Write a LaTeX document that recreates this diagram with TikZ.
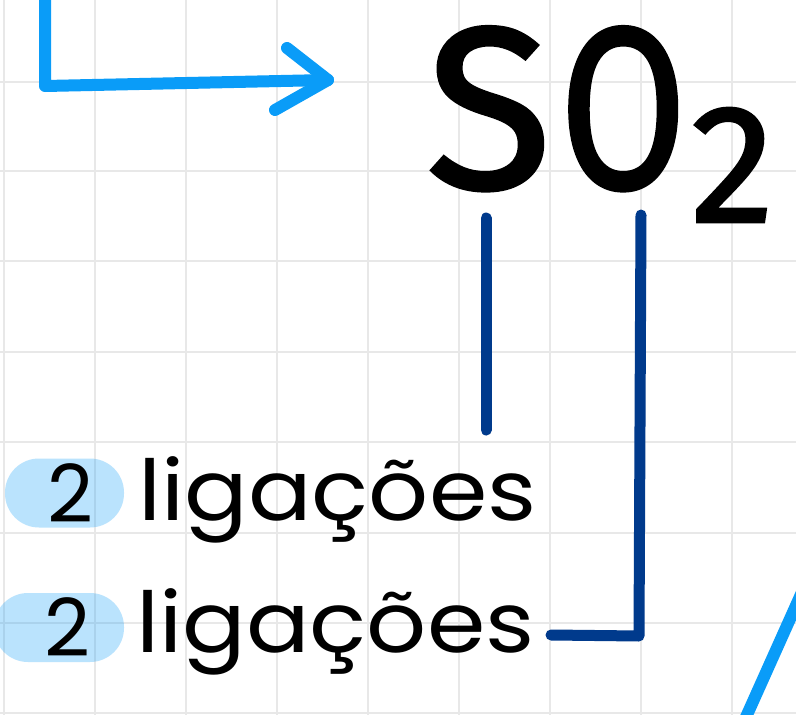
\documentclass[tikz,border=0pt]{standalone}
\usepackage{fontspec}
\setmainfont{Fira Sans}
\newfontfamily\formfont[FakeBold=1.6]{Fira Sans}
\newfontfamily\handfont{Poppins}
\usetikzlibrary{calc}
\definecolor{gridc}{HTML}{E8E8E8}
\definecolor{arrowblue}{HTML}{0A9CF8}
\definecolor{darkblue}{HTML}{003A8C}
\definecolor{pillblue}{HTML}{0A9CF8}
\tikzset{
  gridline/.style={gridc, line width=2.5pt},
  brightline/.style={arrowblue, line width=12pt, line cap=round, line join=round},
  bondline/.style={darkblue, line width=11pt, line cap=round, line join=round},
  formula/.style={inner sep=0pt, font=\formfont\fontsize{230}{230}\selectfont},
  pillnode/.style={fill=pillblue, fill opacity=0.28, text opacity=1, rounded corners=34pt,
    minimum width=119pt, minimum height=69pt, inner sep=0pt,
    font=\handfont\fontsize{80}{80}\selectfont},
  handtext/.style={inner sep=0pt, anchor=base west, font=\handfont\fontsize{84}{84}\selectfont},
}
\begin{document}
\begin{tikzpicture}[x=1pt,y=-1pt]
\useasboundingbox (0,0) rectangle (796,715);
\fill[white] (0,0) rectangle (796,715);
% grid
\foreach \x in {4,95,186,277,368,459,550,641,732}
  \draw[gridline] (\x,0) -- (\x,715);
\foreach \y in {82,171,261,352,442,533,623,713}
  \draw[gridline] (0,\y) -- (796,\y);

% formula
\node[formula, anchor=base west] (so2) at (426,188)
  {S\kern8pt\scalebox{0.8}[1]{O}\kern4pt\raisebox{-34pt}{\fontsize{168}{168}\selectfont 2}};

% incoming arrow
\coordinate (arrstart) at (45,-10);
\coordinate (arrcorner) at (45,86);
\coordinate (arrtip) at (328,80);
\draw[brightline] (arrstart) -- (arrcorner) -- (arrtip);
\draw[brightline] ($(arrtip)+(-41,-32)$) -- (arrtip) -- ($(arrtip)+(-53,30)$);

% labels
\node[pillnode] (pill1) at (64.5,493) {\hspace*{11pt}2};
\node[pillnode, minimum width=130pt] (pill2) at (59,627.5) {\hspace*{16pt}2};
\node[handtext] (lig1) at (138,520) {\scalebox{1.12}[1]{ligações}};
\node[handtext] (lig2) at (136,652) {\scalebox{1.12}[1]{ligações}};

% bonds
\coordinate (b1top) at (486,218);
\coordinate (b1bot) at (486,430);
\coordinate (b2top) at (641,215);
\coordinate (b2corner) at (639,636);
\coordinate (b2end) at (551,635);
\draw[bondline] (b1top) -- (b1bot);
\draw[bondline] (b2top) -- (b2corner) -- (b2end);

% lower-right line
\coordinate (diagA) at (820,552);
\coordinate (diagB) at (742,726);
\draw[brightline] (diagA) -- (diagB);
\end{tikzpicture}
\end{document}
